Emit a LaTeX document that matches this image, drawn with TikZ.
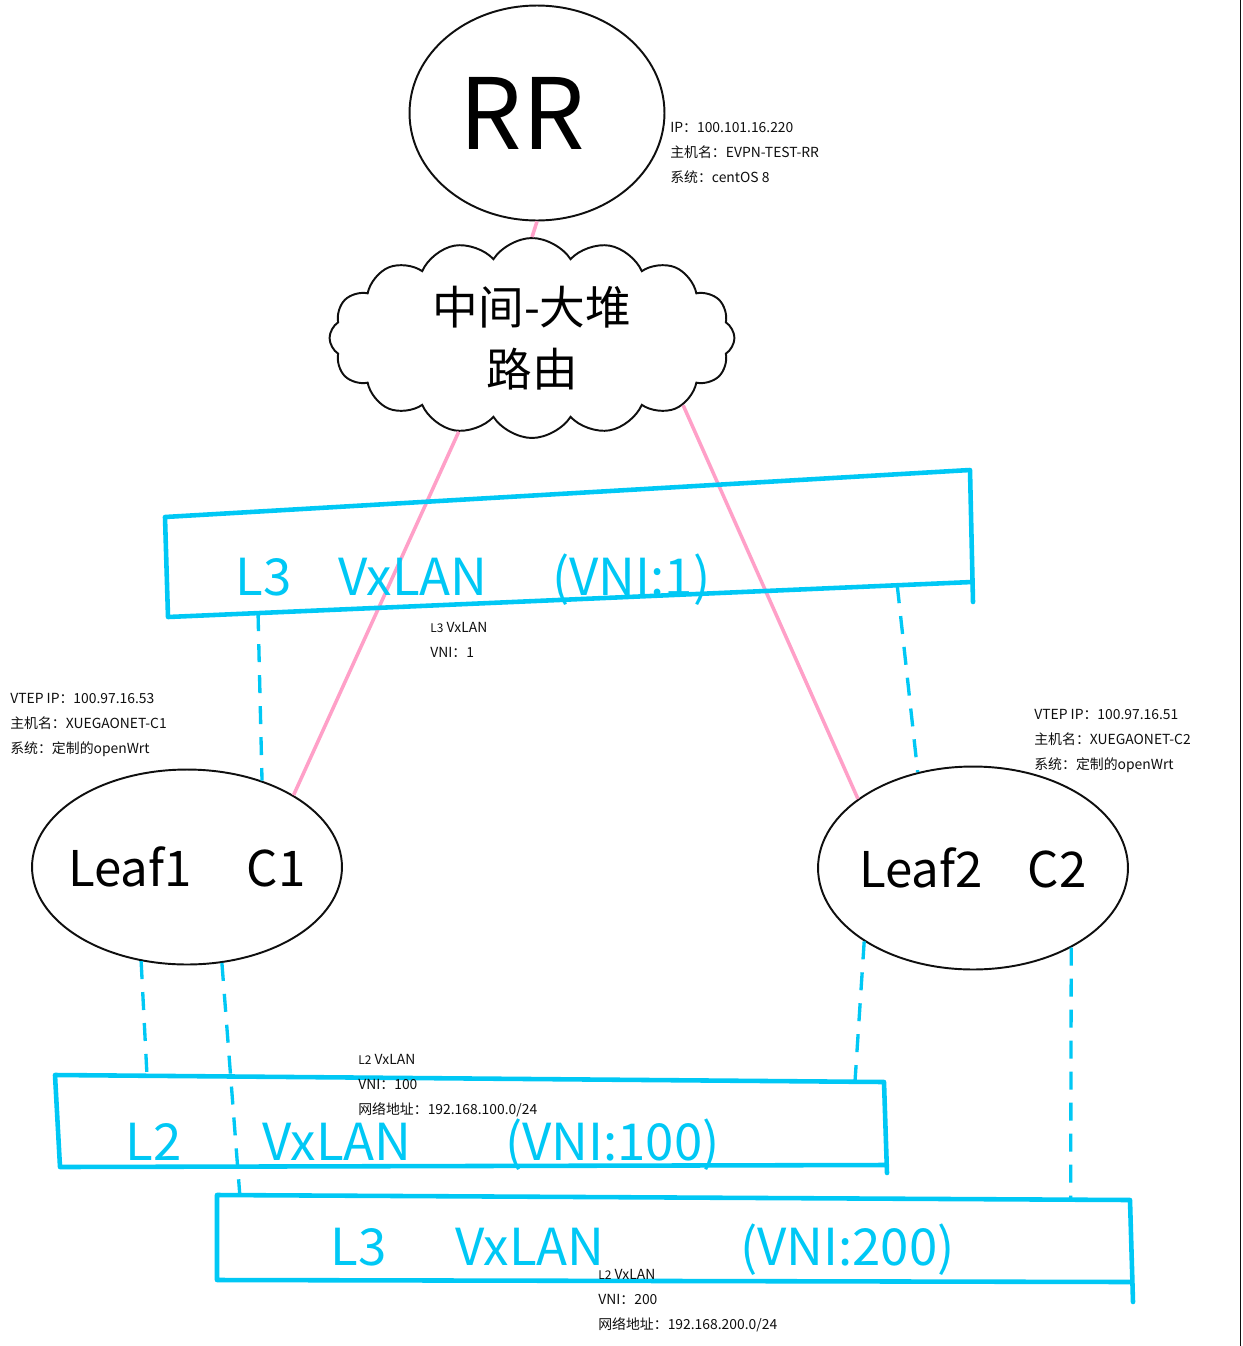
\documentclass[tikz,border=0pt]{standalone}
\usepackage{fontspec}
\setmainfont{Noto Sans CJK SC}
\usepackage{tikz}
\usetikzlibrary{shapes.geometric, shapes.symbols, calc}
\definecolor{mydark}{RGB}{15,15,15}
\definecolor{mycyan}{RGB}{0,200,245}
\definecolor{mypink}{RGB}{255,160,200}
\tikzset{
  hub/.style={ellipse, draw=mydark, line width=1.1pt, inner sep=0pt,
    font=\fontsize{28}{28}\selectfont},
  netcloud/.style={cloud, cloud puffs=16, cloud puff arc=115, aspect=2,
    draw=mydark, line width=1.1pt, inner sep=0pt, align=center,
    font=\fontsize{26}{35}\selectfont},
  vxbox/.style={draw=mycyan, line width=2.6pt, line join=round, line cap=round},
  vxtext/.style={text=mycyan, anchor=base west, inner sep=0pt,
    font=\fontsize{29}{29}\selectfont},
  rrline/.style={mypink, line width=2pt},
  vtepline/.style={mycyan, line width=1.9pt, dash pattern=on 0.36cm off 0.26cm},
  info/.style={anchor=north west, align=left, inner sep=0pt, text=mydark,
    font=\fontsize{7.9}{14.17}\selectfont}
}

\begin{document}
\begin{tikzpicture}[x=0.02cm, y=-0.02cm]
    \useasboundingbox (0,0) rectangle (1242,1346);
    \fill[white] (0,0) rectangle (1242,1346);
    \draw[mydark, line width=1pt] (1240.5,0) -- (1240.5,1346);

    % Route reflector
    \node[hub, minimum width=5.1cm, minimum height=4.3cm,
      font=\fontsize{56}{56}\selectfont] (rr) at (537,113) {\makebox[0pt]{\hspace{-0.6cm}RR}};

    % Underlay
    \node[netcloud, minimum width=8.1cm, minimum height=4.0cm] (underlay) at (532,338)
      {中间-大堆\\路由};

    % Leaf switches
    \node[hub, minimum width=6.2cm, minimum height=3.9cm] (leafA) at (187,867)
      {\makebox[0pt]{Leaf1\hspace{1.1cm}C1}};
    \node[hub, minimum width=6.2cm, minimum height=4.06cm] (leafB) at (973,868)
      {\makebox[0pt]{Leaf2\hspace{0.9cm}C2}};

    % BGP sessions
    \draw[rrline] (rr.south) -- (underlay.north);
    \draw[rrline] (underlay.232) -- (leafA.34);
    \draw[rrline] (underlay.336) -- (leafB.149);

    % L3 VxLAN (VNI 1)
    \coordinate (l3tl) at (165,517);
    \coordinate (l3tr) at (970,470);
    \coordinate (l3br) at (972,582);
    \coordinate (l3bl) at (168,617);
    \draw[vxbox] (l3br) -- (l3bl) -- (l3tl) -- (l3tr) -- ($(l3br)+(1,20)$);
    \node[vxtext] (l3label) at (235,595)
      {\makebox[2.06cm][l]{L3}\makebox[4.28cm][l]{VxLAN}(VNI:1)};

    % L2 VxLAN (VNI 100)
    \coordinate (l2tl) at (55,1075);
    \coordinate (l2tr) at (884,1082);
    \coordinate (l2br) at (886,1165);
    \coordinate (l2bl) at (60,1167);
    \draw[vxbox] (l2br) -- (l2bl) -- (l2tl) -- (l2tr) -- ($(l2br)+(1,8)$);
    \node[vxtext] (l2label) at (125,1160)
      {\makebox[2.74cm][l]{L2}\makebox[4.86cm][l]{VxLAN}(VNI:100)};

    % L2 VxLAN (VNI 200)
    \coordinate (l3ctl) at (217,1195);
    \coordinate (l3ctr) at (1130,1200);
    \coordinate (l3cbr) at (1132,1282);
    \coordinate (l3cbl) at (217,1280);
    \draw[vxbox] (l3cbr) -- (l3cbl) -- (l3ctl) -- (l3ctr) -- ($(l3cbr)+(1,20)$);
    \node[vxtext] (l3clabel) at (330,1265)
      {\makebox[2.5cm][l]{L3}\makebox[5.7cm][l]{VxLAN}(VNI:200)};

    % VTEP links
    \path (l3bl) -- (l3br) coordinate[pos=0.112] (l3a) coordinate[pos=0.907] (l3b);
    \path (l2tl) -- (l2tr) coordinate[pos=0.111] (l2a) coordinate[pos=0.965] (l2b);
    \path (l3ctl) -- (l3ctr) coordinate[pos=0.025] (l3c) coordinate[pos=0.935] (l3d);
    \draw[vtepline] (l3a) -- (leafA.49);
    \draw[vtepline] (l3b) -- (leafB.120);
    \draw[vtepline] (leafA.244) -- (l2a);
    \draw[vtepline] (leafA.290) -- (l3c);
    \draw[vtepline] (leafB.214) -- (l2b);
    \draw[vtepline] (leafB.321) -- (l3d);

    % Host notes
    \node[info] (rrinfo) at (670,122)
      {IP：100.101.16.220\\主机名：EVPN-TEST-RR\\系统：centOS 8};
    \node[info] (leafAinfo) at (10,693)
      {VTEP IP：100.97.16.53\\主机名：XUEGAONET-C1\\系统：定制的openWrt};
    \node[info] (leafBinfo) at (1034,709)
      {VTEP IP：100.97.16.51\\主机名：XUEGAONET-C2\\系统：定制的openWrt};
    \node[info] (l3info) at (430,622)
      {{\fontsize{6.8}{7}\selectfont L3} VxLAN\\VNI：1};
    \node[info] (l2info) at (358,1054)
      {{\fontsize{6.8}{7}\selectfont L2} VxLAN\\VNI：100\\网络地址：192.168.100.0/24};
    \node[info] (l2binfo) at (598,1269)
      {{\fontsize{6.8}{7}\selectfont L2} VxLAN\\VNI：200\\网络地址：192.168.200.0/24};
\end{tikzpicture}
\end{document}
